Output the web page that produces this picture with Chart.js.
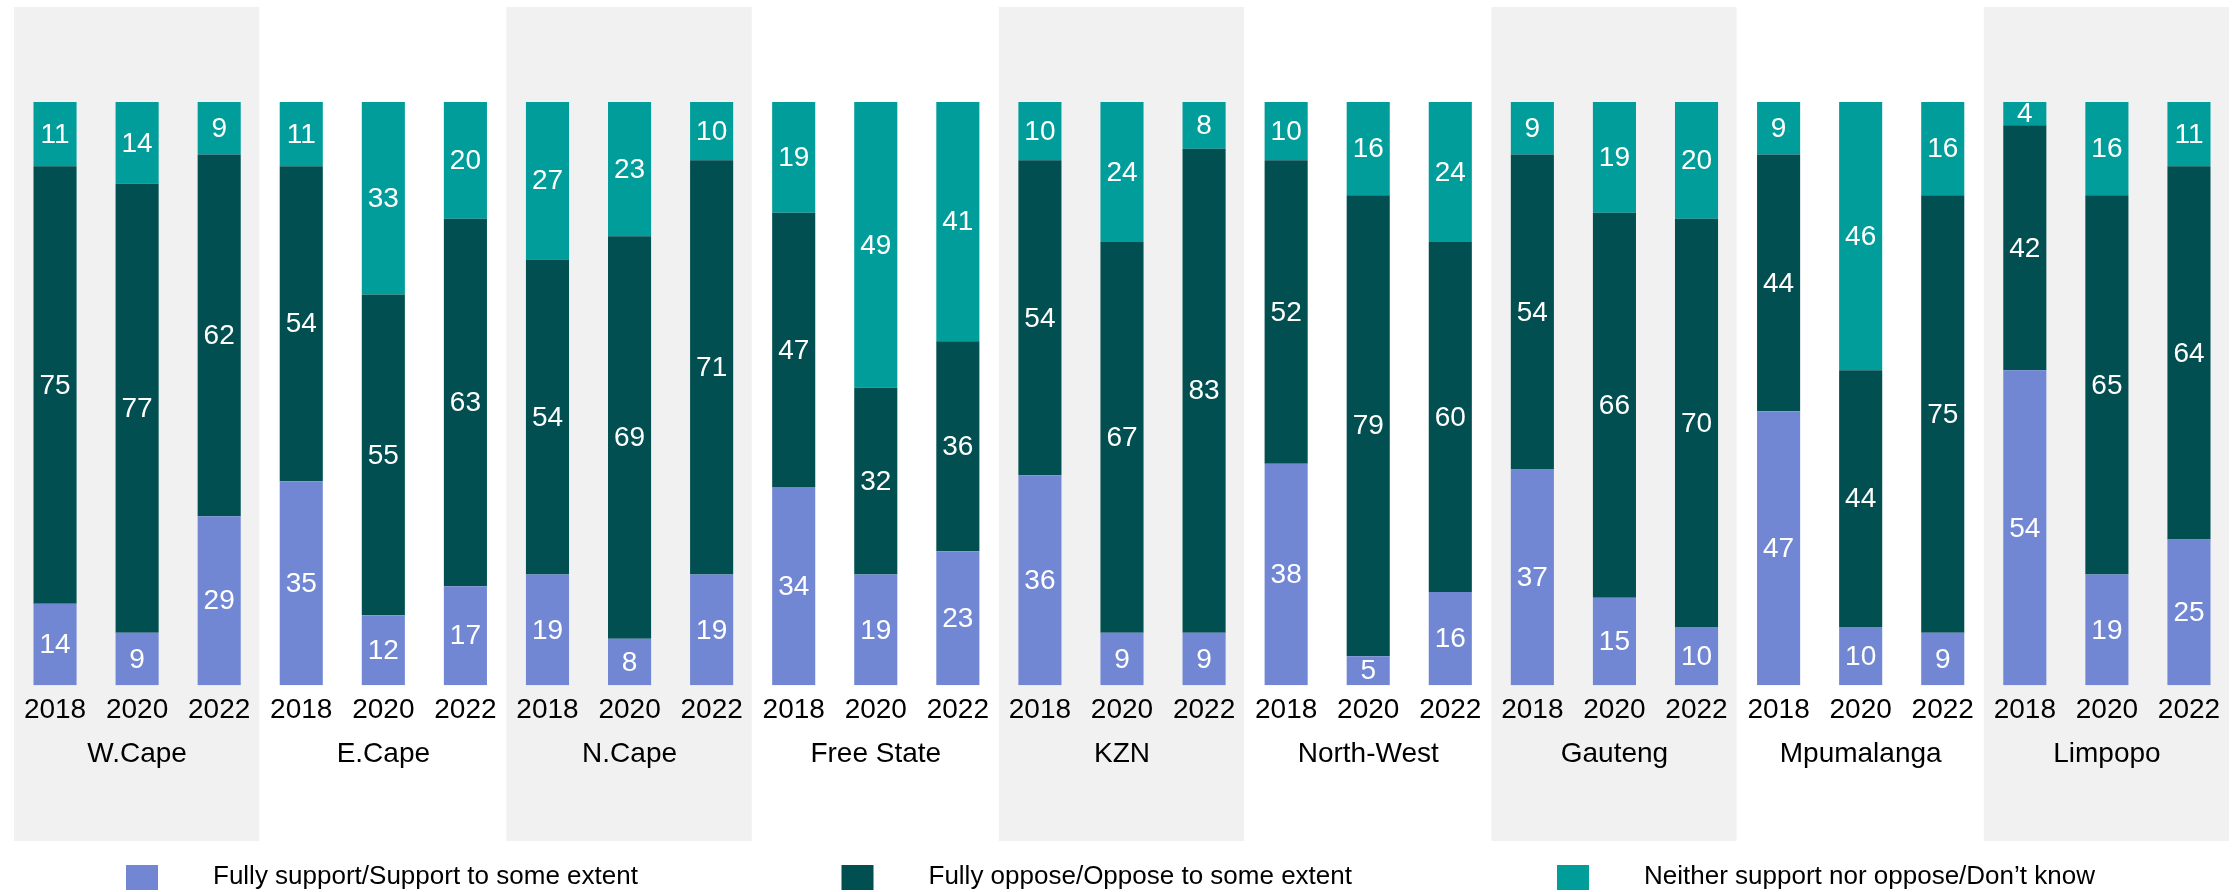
<!DOCTYPE html>
<html>
<head>
<meta charset="utf-8">
<script src="https://cdn.jsdelivr.net/npm/chart.js"></script>
<style>
  body { margin: 0; background: #fff; }
  #wrap { width: 2234px; height: 892px; position: relative; }
</style>
</head>
<body>
<div id="wrap"><canvas id="provChart"></canvas></div>
<script>
const provinces = ['W.Cape', 'E.Cape', 'N.Cape', 'Free State', 'KZN', 'North-West', 'Gauteng', 'Mpumalanga', 'Limpopo'];
const years = ['2018', '2020', '2022'];

// one value per province/year, in the order above
const support = [14, 9, 29, 35, 12, 17, 19, 8, 19, 34, 19, 23, 36, 9, 9, 38, 5, 16, 37, 15, 10, 47, 10, 9, 54, 19, 25];
const oppose  = [75, 77, 62, 54, 55, 63, 54, 69, 71, 47, 32, 36, 54, 67, 83, 52, 79, 60, 54, 66, 70, 44, 44, 75, 42, 65, 64];
const neither = [11, 14, 9, 11, 33, 20, 27, 23, 10, 19, 49, 41, 10, 24, 8, 10, 16, 24, 9, 19, 20, 9, 46, 16, 4, 16, 11];

const seriesNames = ['Fully support/Support to some extent', 'Fully oppose/Oppose to some extent', 'Neither support nor oppose/Don\u2019t know'];
const seriesColors = ['#7187d4', '#014f50', '#019d9a'];

const FONT = '"Liberation Sans", Arial, sans-serif';

// grey panel behind every other province
const bands = {
    id: 'bands',
    beforeDraw(chart) {
        const { ctx, scales: { x } } = chart;
        const step = x.getPixelForValue(1) - x.getPixelForValue(0);
        ctx.save();
        ctx.fillStyle = '#f1f1f1';
        provinces.forEach((p, i) => {
            if (i % 2) return;
            const left = x.getPixelForValue(i * years.length) - step / 2;
            ctx.fillRect(left, 7, step * years.length - 1, 834);
        });
        ctx.restore();
    }
};

// white numbers in the middle of each segment
const valueLabels = {
    id: 'valueLabels',
    afterDatasetsDraw(chart) {
        const ctx = chart.ctx;
        ctx.save();
        ctx.font = '28px ' + FONT;
        ctx.fillStyle = '#ffffff';
        ctx.textAlign = 'center';
        ctx.textBaseline = 'middle';
        chart.data.datasets.forEach((ds, i) => {
            chart.getDatasetMeta(i).data.forEach((bar, j) => {
                ctx.fillText(ds.data[j], bar.x, (bar.y + bar.base) / 2 + 1);
            });
        });
        ctx.restore();
    }
};

// legend spread across the bottom
const wideLegend = {
    id: 'wideLegend',
    afterDraw(chart) {
        const ctx = chart.ctx;
        ctx.save();
        ctx.font = '26px ' + FONT;
        ctx.textBaseline = 'middle';
        ctx.textAlign = 'left';
        chart.data.datasets.forEach((ds, i) => {
            const x = 126 + i * 715.5;
            ctx.fillStyle = ds.backgroundColor;
            ctx.fillRect(x, 865, 32, 25);
            ctx.fillStyle = '#000';
            ctx.fillText(ds.label, x + 87, 877);
        });
        ctx.restore();
    }
};

function createChart() {
    const labels = [];
    provinces.forEach(() => years.forEach(y => labels.push(y)));

    const ctx = document.getElementById('provChart').getContext('2d');
    new Chart(ctx, {
        type: 'bar',
        data: {
            labels: labels,
            datasets: [support, oppose, neither].map((values, i) => ({
                label: seriesNames[i],
                data: values,
                backgroundColor: seriesColors[i],
                borderWidth: 0,
                barPercentage: 0.525,
                categoryPercentage: 1.0
            }))
        },
        options: {
            responsive: true,
            maintainAspectRatio: false,
            animation: false,
            layout: { padding: { left: 14, right: 4, top: 102, bottom: 118.5 } },
            plugins: {
                legend: { display: false },
                tooltip: { enabled: false }
            },
            scales: {
                x: {
                    stacked: true,
                    weight: 0,
                    grid: { display: false, drawTicks: false, tickLength: 0 },
                    border: { display: false },
                    ticks: {
                        autoSkip: false,
                        maxRotation: 0,
                        padding: 8,
                        color: '#000',
                        font: { family: FONT, size: 28 }
                    }
                },
                province: {
                    type: 'category',
                    position: 'bottom',
                    labels: provinces,
                    offset: true,
                    weight: 1,
                    grid: { display: false, drawTicks: false, tickLength: 0 },
                    border: { display: false },
                    ticks: {
                        autoSkip: false,
                        maxRotation: 0,
                        padding: 2.5,
                        color: '#000',
                        font: { family: FONT, size: 28 }
                    }
                },
                y: {
                    stacked: true,
                    display: false,
                    min: 0,
                    max: 100
                }
            }
        },
        plugins: [bands, valueLabels, wideLegend]
    });
}

createChart();
</script>
</body>
</html>
